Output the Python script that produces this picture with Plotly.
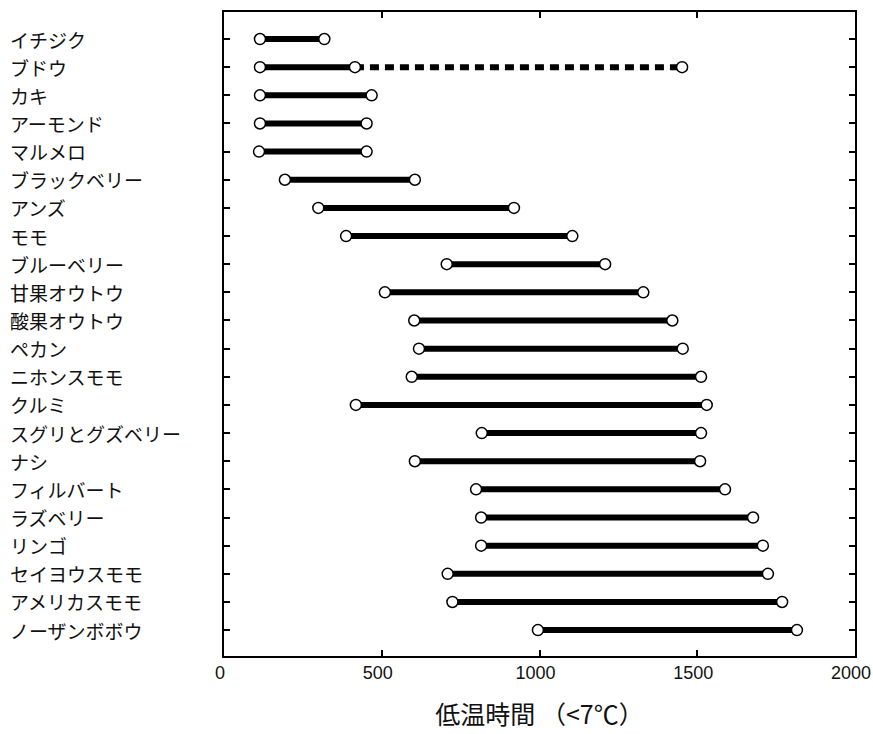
import plotly.graph_objects as go

categories = ["イチジク", "ブドウ", "カキ", "アーモンド", "マルメロ", "ブラックベリー", "アンズ", "モモ",
              "ブルーベリー", "甘果オウトウ", "酸果オウトウ", "ペカン", "ニホンスモモ", "クルミ",
              "スグリとグズベリー", "ナシ", "フィルバート", "ラズベリー", "リンゴ", "セイヨウスモモ",
              "アメリカスモモ", "ノーザンボボウ"]
start_hours = [114, 114, 114, 114, 111, 193, 299, 387, 706, 510, 603, 618, 595, 418,
               817, 605, 799, 815, 815, 709, 724, 995]
end_hours = [318, 415, 468, 452, 452, 605, 919, 1104, 1208, 1329, 1421, 1454, 1512, 1530,
             1512, 1509, 1588, 1677, 1708, 1724, 1769, 1816]
# grape: extended (dashed) range
ext_category = "ブドウ"
ext_start = 415
ext_end = 1452
x_ticks = [0, 500, 1000, 1500, 2000]
x_title = "低温時間 （<7℃）"

idx = list(range(len(categories)))

lx, ly = [], []
for i, s, e in zip(idx, start_hours, end_hours):
    lx += [s, e, None]
    ly += [i, i, None]

fig = go.Figure()
gi = categories.index(ext_category)
fig.add_trace(go.Scatter(x=[ext_start, ext_end], y=[gi, gi], mode="lines",
                         line=dict(color="black", width=6, dash="9px,6px"),
                         hoverinfo="skip", showlegend=False))
fig.add_trace(go.Scatter(x=lx, y=ly, mode="lines", line=dict(color="black", width=6),
                         hoverinfo="skip", showlegend=False))
mx = start_hours + end_hours + [ext_end]
my = idx + idx + [gi]
fig.add_trace(go.Scatter(x=mx, y=my, mode="markers",
                         marker=dict(symbol="circle", size=11, color="white",
                                     line=dict(color="black", width=1.5)),
                         showlegend=False))

for i, c in zip(idx, categories):
    fig.add_annotation(x=-0.342, xref="paper", y=i, yref="y", text=c, showarrow=False,
                       xanchor="left", yanchor="middle",
                       font=dict(family="Noto Sans CJK JP", size=19, color="#111"))

fig.update_layout(
    width=873, height=734,
    margin=dict(l=224, r=18, t=12, b=78, autoexpand=False),
    paper_bgcolor="white", plot_bgcolor="white",
    font=dict(family="Liberation Sans, Arial", color="#111"),
    xaxis=dict(range=[0, 2000.01], tickvals=x_ticks, ticktext=[str(t) for t in x_ticks],
               ticks="inside", ticklen=6, tickwidth=1.5, tickcolor="black",
               showline=True, linecolor="black", linewidth=1.5, mirror="allticks",
               showgrid=False, zeroline=False, ticklabeloverflow="allow", automargin=False,
               ticklabelshift=-4,
               tickfont=dict(size=18, family="Liberation Sans, Arial", color="#111"),
               title=dict(text=x_title, standoff=24,
                          font=dict(family="Noto Sans CJK JP", size=25, color="#111"))),
    yaxis=dict(range=[len(categories) - 1 + 0.92, -0.96], tickvals=idx, automargin=False,
               showticklabels=False, ticks="inside", ticklen=6, tickwidth=1.5, tickcolor="black",
               showline=True, linecolor="black", linewidth=1.5, mirror="allticks",
               showgrid=False, zeroline=False),
)

fig.write_html("out.html")
